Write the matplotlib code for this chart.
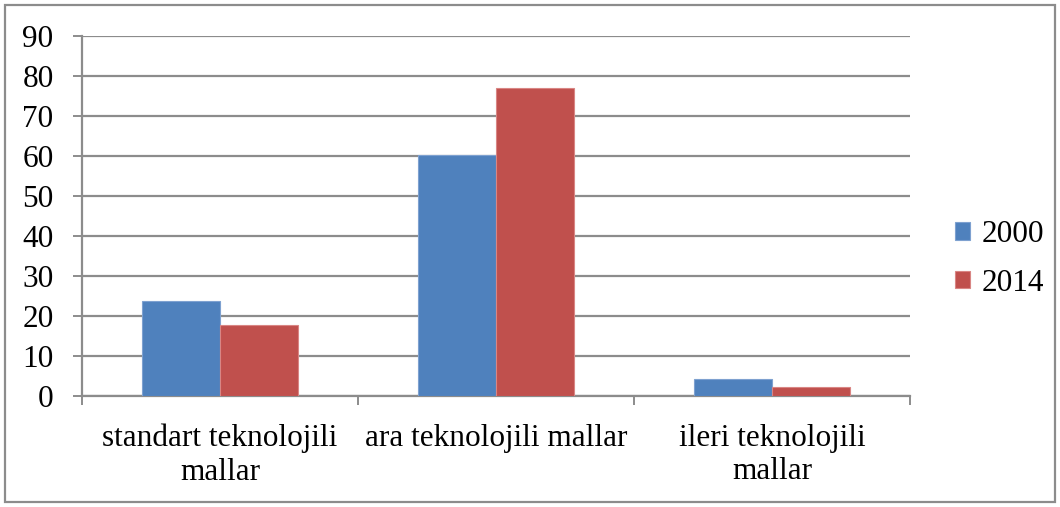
import numpy as np
import matplotlib
matplotlib.use("Agg")
import matplotlib.pyplot as plt
from matplotlib.patches import Rectangle

# ---------------------------------------------------------------- data
categories = ["standart teknolojili\nmallar", "ara teknolojili mallar",
              "ileri teknolojili\nmallar"]
years = ["2000", "2014"]
values_2000 = [23.7, 60.2, 4.2]
values_2014 = [17.8, 76.9, 2.2]
yticks = [0, 10, 20, 30, 40, 50, 60, 70, 80, 90]

COLORS = ["#4F81BD", "#C0504D"]
EDGES = ["#7EA1D0", "#D98684"]
GRID = "#8C8C8C"

plt.rcParams["font.family"] = ["Liberation Serif", "DejaVu Serif"]

fig = plt.figure(figsize=(10.6, 5.07), dpi=100)
ax = fig.add_axes([82 / 1060, 111 / 507, 828 / 1060, 360 / 507])

x = np.arange(len(categories))
w = 0.284
for i, (vals, lab) in enumerate(zip([values_2000, values_2014], years)):
    ax.bar(x + (i - 0.5) * w, vals, width=w, color=COLORS[i],
           edgecolor=EDGES[i], linewidth=0.8, label=lab, zorder=3)

ax.set_xlim(-0.5, len(categories) - 0.5)
ax.set_ylim(0, 90)
ax.set_yticks(yticks)
ax.yaxis.grid(True, color=GRID, lw=1.6, zorder=0)
ax.set_axisbelow(True)

# category labels at centres, tick marks at the boundaries
ax.set_xticks(x)
ax.set_xticklabels(categories, fontsize=22.5, linespacing=1.2)
ax.set_xticks(np.arange(len(categories) + 1) - 0.5, minor=True)
ax.tick_params(axis="x", which="major", length=0, pad=20)
ax.tick_params(axis="x", which="minor", length=6.5, width=1.4, color=GRID)
ax.tick_params(axis="y", length=6.5, width=1.4, color=GRID, labelsize=22.5,
               pad=14)

for s in ["top", "right"]:
    ax.spines[s].set_visible(False)
for s in ["left", "bottom"]:
    ax.spines[s].set_color(GRID)
    ax.spines[s].set_linewidth(1.6)

ax.legend(loc="center left", bbox_to_anchor=(1.035, 0.381), frameon=False,
          fontsize=22.5, handlelength=0.5, handleheight=0.5,
          handletextpad=0.35, labelspacing=0.62, borderpad=0)

# chart-area border
fig.patches.append(Rectangle((5 / 1060, 5 / 507), 1050 / 1060, 497 / 507,
                             transform=fig.transFigure, fill=False,
                             edgecolor="#8C8C8C", linewidth=1.6))

fig.savefig("out.png", dpi=100)
